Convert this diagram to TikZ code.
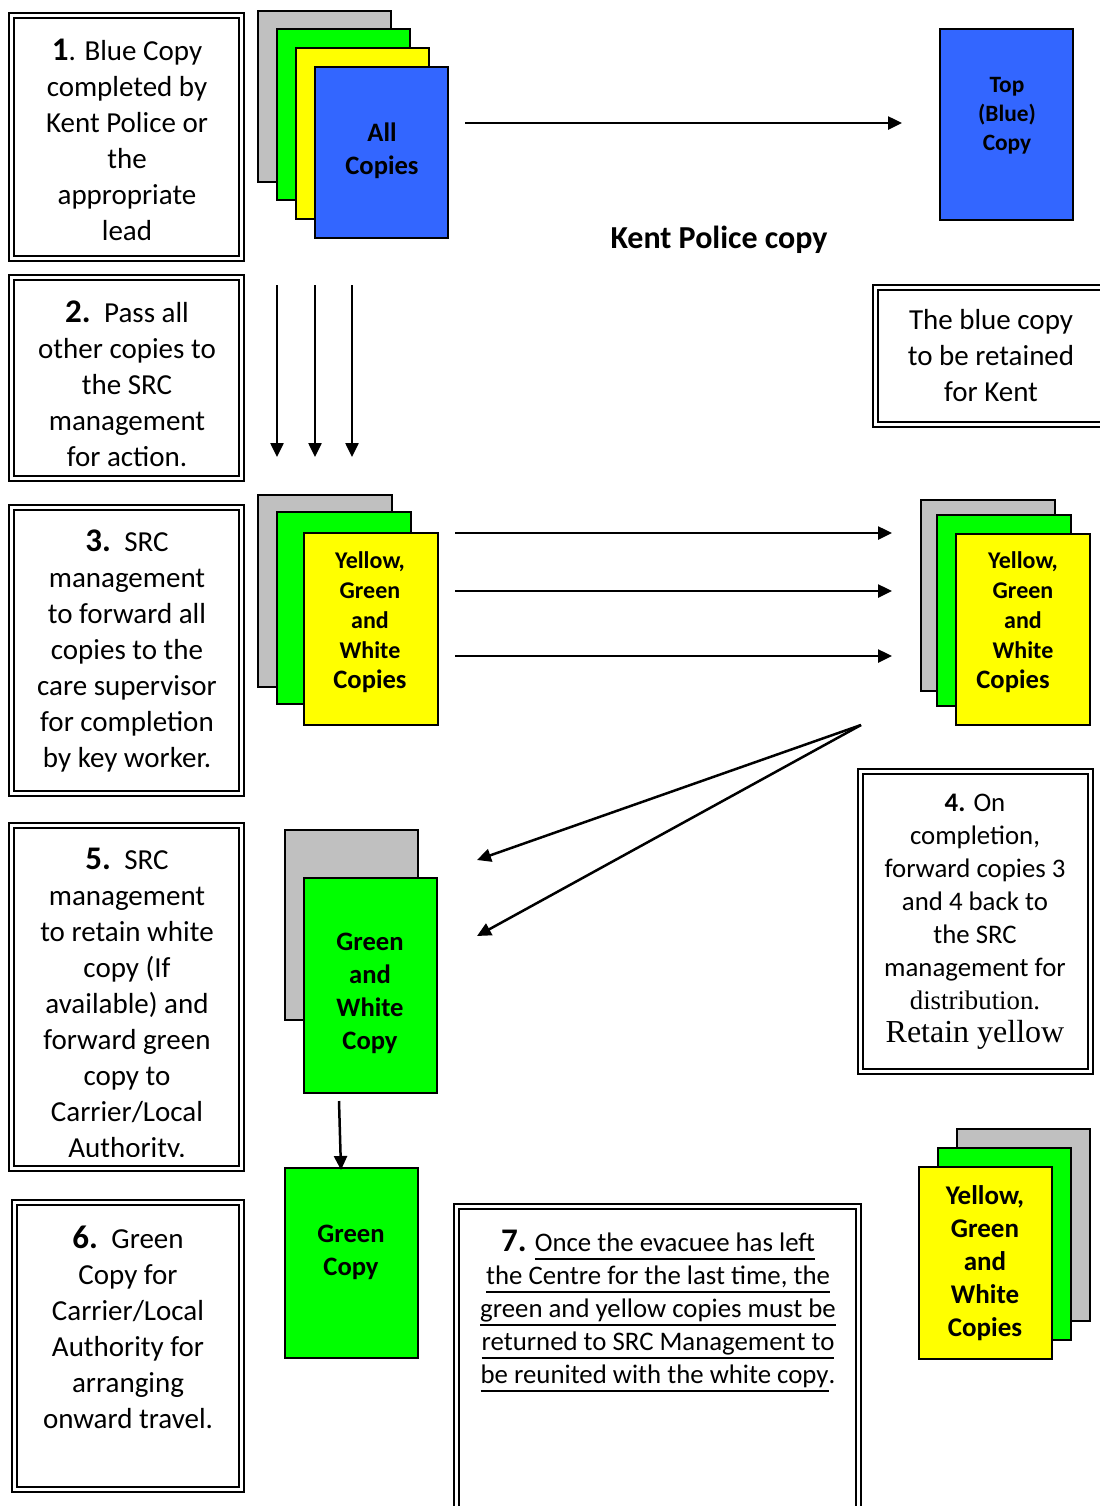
\documentclass[tikz,border=0pt]{standalone}
\usepackage{fontspec}
\setmainfont{Carlito}
\newfontfamily\tnr{Liberation Serif}
\usetikzlibrary{arrows.meta}

\definecolor{sheetgrey}{HTML}{C0C0C0}
\definecolor{sheetgreen}{HTML}{00FF00}
\definecolor{sheetyellow}{HTML}{FFFF00}
\definecolor{sheetblue}{HTML}{3366FF}

\tikzset{
  frame/.style={draw, line width=1pt, double, double distance=1.5pt},
  sheet/.style 2 args={draw, line width=1pt, inner sep=0pt, outer sep=0pt,
    minimum width=#1*0.5pt, minimum height=#2*0.5pt},
  boxtext/.style={align=center, inner sep=0pt,
    font=\fontsize{14.5pt}{18pt}\selectfont},
  smalltext/.style={align=center, inner sep=0pt,
    font=\fontsize{13.4pt}{16.5pt}\selectfont},
  copytext/.style={align=center, inner sep=0pt,
    font=\bfseries\fontsize{13.3pt}{16.5pt}\selectfont},
  flow/.style={line width=1.25pt, -{Triangle[length=7pt,width=6.5pt]}},
}
\newcommand{\stepno}[1]{{\bfseries\fontsize{16.5pt}{18pt}\selectfont #1}}
% underline at a fixed depth below the baseline
\newcommand{\uln}[1]{\setbox0\hbox{#1}\rlap{\vrule width\wd0 height -3.1pt depth 4.1pt}\box0}

\begin{document}
\begin{tikzpicture}[x=0.5pt,y=-0.5pt]
\useasboundingbox (0,0) rectangle (1099,1506);

% ---------- framed instruction boxes ----------
\draw[frame] (11.5,15.5)   rectangle (241.5,258.5);
\draw[frame] (11.5,277.5)  rectangle (241.5,478.5);
\draw[frame] (11.5,507.5)  rectangle (241.5,793.5);
\draw[frame] (11.5,825.5)  rectangle (241.5,1168.5);
\draw[frame] (14.5,1202.5) rectangle (241.5,1489.5);
\draw[frame] (860.5,771.5) rectangle (1090.5,1071.5);
\draw[frame] (875.5,287.5) rectangle (1115,424.5);
\draw[frame] (456.5,1206.5) rectangle (858.5,1530);

\node[boxtext] (t1) at (127,139.5) {\stepno{1}. Blue Copy\\completed by\\Kent Police or\\the\\appropriate\\lead};
\node[boxtext] (t2) at (127,384) {\stepno{2.}\, Pass all\\other copies to\\the SRC\\management\\for action.};
\node[boxtext] (t3) at (127,651) {\stepno{3.}\, SRC\\management\\to forward all\\copies to the\\care supervisor\\for completion\\by key worker.};
\begin{scope}
  \clip (15,830) rectangle (238,1156);
  \node[boxtext] (t5) at (127,1005) {\stepno{5.}\, SRC\\management\\to retain white\\copy (If\\available) and\\forward green\\copy to\\Carrier/Local\\Authority.};
\end{scope}
\node[boxtext] (t6) at (128,1327.5) {\stepno{6.}\, Green\\Copy for\\Carrier/Local\\Authority for\\arranging\\onward travel.};
\node[smalltext] (t4) at (975,922) {\textbf{4.} On\\completion,\\forward copies 3\\and 4 back to\\the SRC\\management for\\{\tnr distribution.}\\{\tnr\fontsize{16pt}{19pt}\selectfont Retain yellow}};
\node[boxtext] (tblue) at (991,356) {The blue copy\\to be retained\\for Kent};
\node[smalltext, anchor=north] (t7) at (658,1230) {\stepno{7.} \uln{Once the evacuee has left}\\\uln{the Centre for the last time, the}\\\uln{green and yellow copies must be}\\\uln{returned to SRC Management to}\\\uln{be reunited with the white copy}.};

% ---------- copy sheets ----------
% all copies
\node[sheet={133}{171}, fill=sheetgrey]   (allG) at (324.5,96.5) {};
\node[sheet={133}{171}, fill=sheetgreen]  (allN) at (343.5,114.5) {};
\node[sheet={133}{171}, fill=sheetyellow] (allY) at (362.5,133.5) {};
\node[sheet={133}{171}, fill=sheetblue]   (allB) at (381.5,152.5) {};
\node[copytext] (allT) at (382,150.5) {All\\Copies};

% top blue copy
\node[sheet={133}{191}, fill=sheetblue] (top) at (1006.5,124.5) {};
\node[align=center, inner sep=0pt, font=\bfseries\fontsize{11.7pt}{14.5pt}\selectfont] (topT) at (1007,116) {Top\\(Blue)\\Copy};
\node[font=\bfseries\fontsize{16pt}{19pt}\selectfont, inner sep=0pt] (kent) at (719,240) {Kent Police copy};

% yellow, green and white copies (left)
\node[sheet={134}{192}, fill=sheetgrey]   (lG) at (324.5,590.5) {};
\node[sheet={134}{192}, fill=sheetgreen]  (lN) at (343.5,607.5) {};
\node[sheet={134}{192}, fill=sheetyellow] (lY) at (370.5,629) {};
\node[align=center, inner sep=0pt, font=\bfseries\fontsize{12pt}{15pt}\selectfont] (lT) at (370,622) {Yellow,\\Green\\and\\White\\{\fontsize{13.3pt}{15pt}\selectfont Copies}};

% yellow, green and white copies (right)
\node[sheet={134}{191}, fill=sheetgrey]   (rG) at (988,595.5) {};
\node[sheet={134}{191}, fill=sheetgreen]  (rN) at (1004,610.5) {};
\node[sheet={134}{191}, fill=sheetyellow] (rY) at (1023,629.5) {};
\node[align=center, inner sep=0pt, font=\bfseries\fontsize{12pt}{15pt}\selectfont] (rT) at (1023,622) {Yellow,\\Green\\and\\White\\{\fontsize{13.3pt}{15pt}\selectfont Copies}\rule{10pt}{0pt}};

% green and white copy
\node[sheet={133}{190}, fill=sheetgrey]  (gwG) at (351.5,925) {};
\node[sheet={133}{215}, fill=sheetgreen] (gwN) at (370.5,985.5) {};
\node[copytext] (gwT) at (370,993.5) {Green\\and\\White\\Copy};

% green copy
\node[sheet={133}{190}, fill=sheetgreen] (gc) at (351.5,1263) {};
\node[copytext] (gcT) at (351,1252.5) {Green\\Copy};

% yellow, green and white copies (returned)
\node[sheet={133}{192}, fill=sheetgrey]   (bG) at (1023.5,1225) {};
\node[sheet={133}{192}, fill=sheetgreen]  (bN) at (1004.5,1244) {};
\node[sheet={133}{192}, fill=sheetyellow] (bY) at (985,1263) {};
\node[align=center, inner sep=0pt, font=\bfseries\fontsize{13.5pt}{16.5pt}\selectfont] (bT) at (985,1263) {Yellow,\\Green\\and\\White\\Copies};

% ---------- arrow end points ----------
\coordinate (a0s) at (465,123);  \coordinate (a0e) at (902,123);
\coordinate (d1s) at (277,285);  \coordinate (d1e) at (277,457);
\coordinate (d2s) at (315,285);  \coordinate (d2e) at (315,457);
\coordinate (d3s) at (352,285);  \coordinate (d3e) at (352,457);
\coordinate (h1s) at (455,533);  \coordinate (h1e) at (892,533);
\coordinate (h2s) at (455,591);  \coordinate (h2e) at (892,591);
\coordinate (h3s) at (455,656);  \coordinate (h3e) at (892,656);
\coordinate (vs)  at (861,725);
\coordinate (v1e) at (477,860);  \coordinate (v2e) at (477,936);
\coordinate (gs)  at (339,1101); \coordinate (ge) at (341,1170);

% ---------- arrows ----------
\draw[flow] (a0s) -- (a0e);
\draw[flow] (d1s) -- (d1e);
\draw[flow] (d2s) -- (d2e);
\draw[flow] (d3s) -- (d3e);
\draw[flow] (h1s) -- (h1e);
\draw[flow] (h2s) -- (h2e);
\draw[flow] (h3s) -- (h3e);
\draw[flow] (vs) -- (v1e);
\draw[flow] (vs) -- (v2e);
\draw[flow] (gs) -- (ge);
\end{tikzpicture}
\end{document}
